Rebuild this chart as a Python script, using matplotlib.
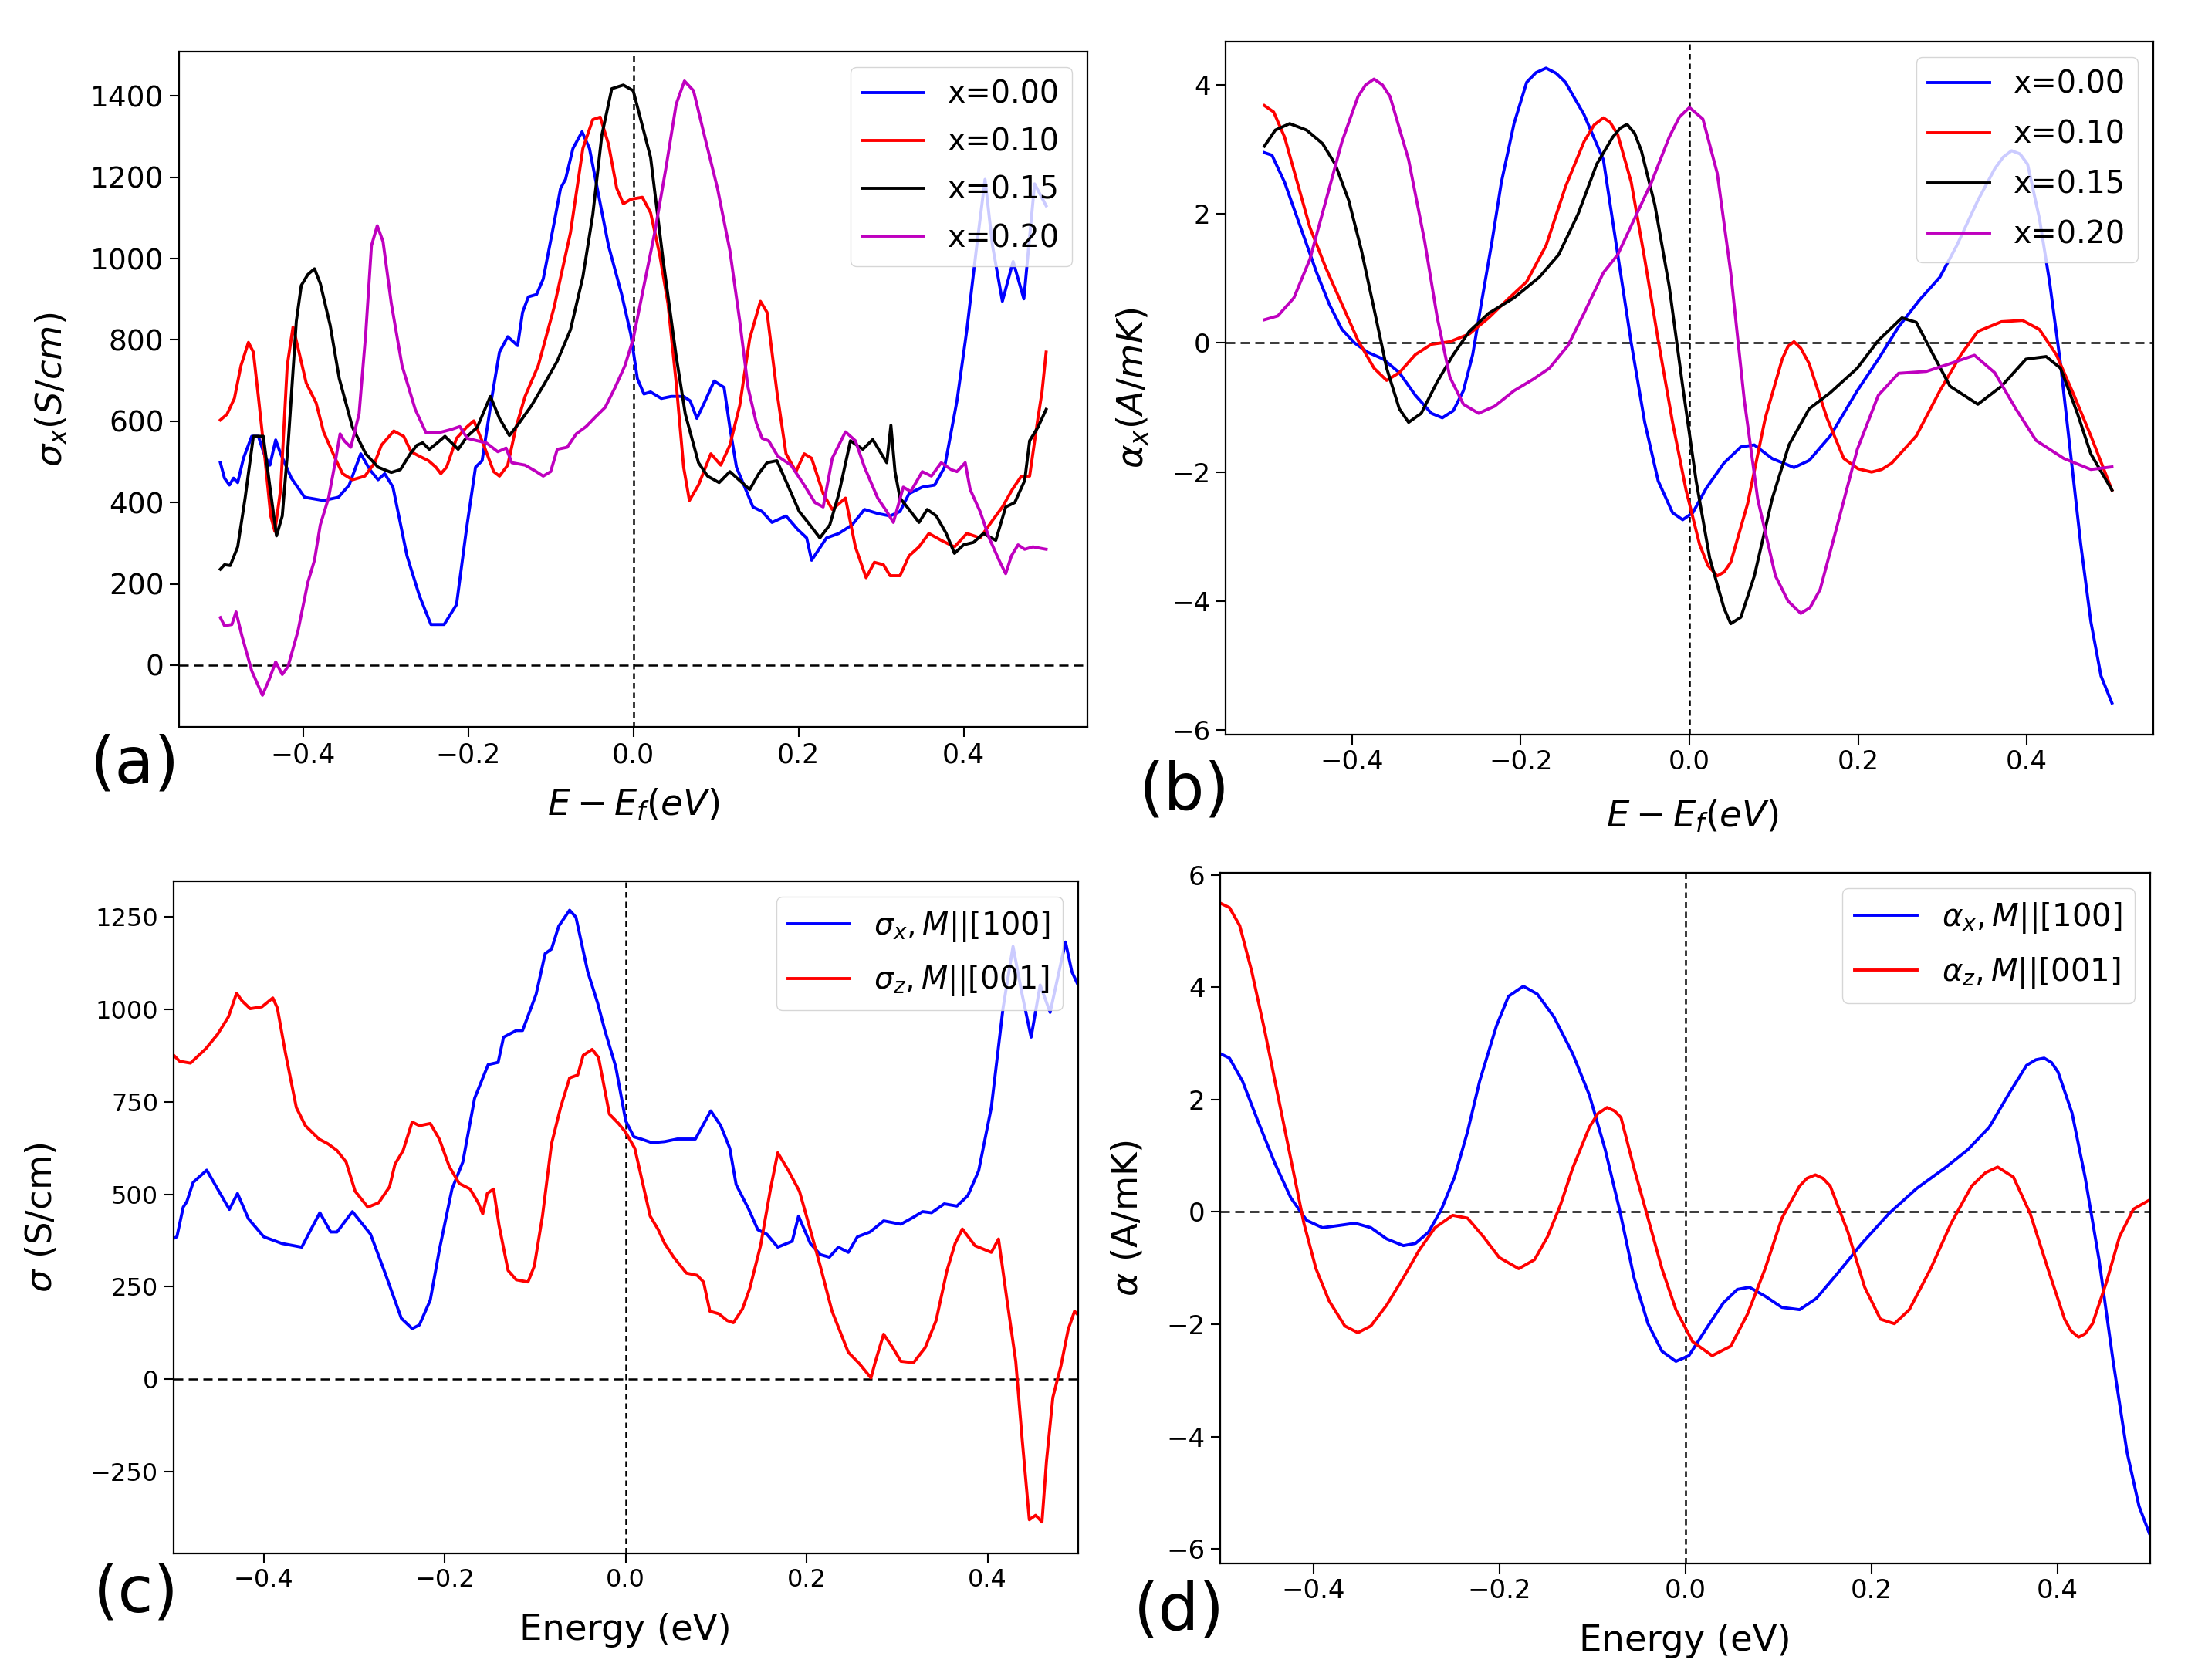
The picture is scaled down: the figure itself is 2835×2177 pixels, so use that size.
import matplotlib
matplotlib.use('Agg')
import matplotlib.pyplot as plt

# ---------------------------------------------------------------
# data
# ---------------------------------------------------------------

labels_x = ['x=0.00', 'x=0.10', 'x=0.15', 'x=0.20']
colors_x = ['b', 'r', 'k', 'm']

# (a) sigma_x for several x
a_e0 = [-0.500, -0.495, -0.489, -0.484, -0.479, -0.472, -0.462, -0.454, -0.446, -0.440, -0.433, -0.427, -0.414,
        -0.398, -0.375, -0.357, -0.344, -0.330, -0.319, -0.309, -0.301, -0.291, -0.274, -0.259, -0.245, -0.229,
        -0.214, -0.202, -0.191, -0.183, -0.171, -0.162, -0.152, -0.140, -0.134, -0.127, -0.117, -0.109, -0.096,
        -0.088, -0.082, -0.073, -0.062, -0.053, -0.030, -0.014, -0.003, 0.005, 0.013, 0.021, 0.034, 0.046, 0.061,
        0.069, 0.077, 0.086, 0.098, 0.110, 0.117, 0.125, 0.145, 0.156, 0.168, 0.185, 0.199, 0.210, 0.216, 0.234,
        0.249, 0.265, 0.280, 0.296, 0.311, 0.323, 0.334, 0.350, 0.365, 0.377, 0.385, 0.392, 0.404, 0.416, 0.426,
        0.435, 0.447, 0.460, 0.473, 0.486, 0.500]
a_s0 = [498, 460, 443, 460, 449, 509, 563, 563, 514, 492, 554, 520, 460, 413, 405, 413, 443, 520, 481, 456, 471,
        438, 269, 171, 100, 100, 149, 334, 487, 503, 661, 770, 808, 786, 868, 906, 912, 950, 1086, 1173, 1195, 1271,
        1312, 1271, 1032, 912, 814, 705, 667, 672, 656, 661, 661, 650, 607, 645, 699, 683, 585, 487, 389, 378, 351,
        367, 334, 313, 258, 313, 324, 345, 383, 373, 367, 378, 422, 438, 443, 487, 574, 650, 825, 1032, 1195, 1032,
        895, 993, 901, 1184, 1130]

a_e1 = [-0.500, -0.492, -0.483, -0.475, -0.466, -0.460, -0.454, -0.446, -0.439, -0.434, -0.427, -0.419, -0.412,
        -0.406, -0.396, -0.384, -0.375, -0.361, -0.352, -0.340, -0.325, -0.313, -0.305, -0.290, -0.278, -0.269,
        -0.259, -0.248, -0.239, -0.233, -0.226, -0.214, -0.202, -0.193, -0.181, -0.169, -0.162, -0.152, -0.142,
        -0.131, -0.115, -0.096, -0.076, -0.061, -0.049, -0.040, -0.030, -0.020, -0.012, -0.003, 0.011, 0.021, 0.032,
        0.042, 0.052, 0.061, 0.068, 0.079, 0.094, 0.106, 0.117, 0.129, 0.141, 0.154, 0.162, 0.174, 0.185, 0.197,
        0.207, 0.216, 0.230, 0.241, 0.257, 0.269, 0.282, 0.292, 0.303, 0.311, 0.323, 0.334, 0.346, 0.358, 0.373,
        0.389, 0.404, 0.420, 0.435, 0.447, 0.459, 0.470, 0.480, 0.490, 0.495, 0.500]
a_s1 = [603, 617, 656, 737, 794, 770, 661, 509, 367, 329, 432, 737, 832, 781, 694, 645, 574, 509, 471, 456, 465,
        498, 541, 576, 563, 525, 514, 503, 487, 471, 487, 558, 585, 601, 541, 476, 465, 492, 585, 661, 737, 879,
        1064, 1271, 1342, 1348, 1282, 1173, 1135, 1146, 1151, 1113, 1010, 890, 694, 487, 405, 443, 520, 492, 541,
        639, 803, 895, 868, 672, 520, 476, 520, 509, 422, 383, 411, 291, 215, 253, 247, 220, 220, 269, 291, 324,
        307, 291, 324, 313, 356, 389, 432, 465, 465, 607, 672, 770]

a_e2 = [-0.500, -0.495, -0.488, -0.479, -0.470, -0.460, -0.448, -0.441, -0.432, -0.425, -0.418, -0.408, -0.402,
        -0.394, -0.386, -0.379, -0.367, -0.356, -0.340, -0.324, -0.309, -0.293, -0.282, -0.270, -0.262, -0.255,
        -0.247, -0.239, -0.228, -0.212, -0.201, -0.189, -0.173, -0.162, -0.150, -0.138, -0.123, -0.107, -0.092,
        -0.076, -0.061, -0.049, -0.038, -0.026, -0.012, 0.000, 0.021, 0.036, 0.052, 0.063, 0.079, 0.090, 0.104,
        0.117, 0.129, 0.141, 0.152, 0.162, 0.174, 0.187, 0.201, 0.214, 0.226, 0.238, 0.249, 0.263, 0.278, 0.290,
        0.307, 0.312, 0.317, 0.323, 0.334, 0.346, 0.356, 0.367, 0.379, 0.389, 0.400, 0.412, 0.424, 0.439, 0.451,
        0.462, 0.474, 0.480, 0.490, 0.500]
a_s2 = [236, 247, 245, 291, 411, 563, 563, 454, 318, 367, 541, 846, 934, 961, 975, 939, 836, 705, 585, 520, 487,
        474, 481, 520, 541, 547, 531, 544, 563, 531, 563, 585, 661, 607, 565, 596, 639, 694, 748, 825, 955, 1108,
        1304, 1418, 1427, 1413, 1249, 999, 760, 618, 498, 465, 449, 476, 454, 432, 471, 498, 503, 443, 378, 345,
        313, 345, 422, 552, 531, 555, 498, 590, 476, 411, 383, 351, 383, 367, 324, 275, 296, 302, 324, 307, 389,
        400, 454, 552, 585, 629]

a_e3 = [-0.500, -0.495, -0.486, -0.481, -0.474, -0.462, -0.449, -0.441, -0.433, -0.425, -0.418, -0.406, -0.394,
        -0.386, -0.379, -0.369, -0.361, -0.355, -0.350, -0.342, -0.332, -0.324, -0.317, -0.310, -0.303, -0.293,
        -0.280, -0.264, -0.251, -0.235, -0.220, -0.210, -0.201, -0.189, -0.178, -0.164, -0.154, -0.147, -0.131,
        -0.119, -0.109, -0.100, -0.092, -0.080, -0.069, -0.057, -0.045, -0.034, -0.022, -0.010, 0.000, 0.013, 0.026,
        0.040, 0.052, 0.062, 0.073, 0.086, 0.102, 0.117, 0.129, 0.139, 0.149, 0.156, 0.164, 0.175, 0.191, 0.207,
        0.220, 0.230, 0.241, 0.257, 0.269, 0.280, 0.296, 0.307, 0.315, 0.327, 0.336, 0.350, 0.361, 0.373, 0.385,
        0.392, 0.402, 0.408, 0.420, 0.431, 0.443, 0.451, 0.458, 0.466, 0.474, 0.484, 0.500]
a_s3 = [117, 97, 100, 131, 73, -14, -74, -36, 8, -23, -3, 84, 204, 258, 345, 411, 498, 569, 552, 536, 618, 814,
        1032, 1081, 1042, 890, 737, 629, 572, 572, 580, 587, 558, 552, 547, 525, 534, 498, 492, 478, 465, 476, 531,
        536, 569, 587, 612, 634, 683, 737, 803, 934, 1064, 1228, 1380, 1437, 1413, 1304, 1173, 1020, 846, 683, 596,
        558, 552, 514, 492, 443, 400, 389, 509, 574, 552, 487, 411, 378, 351, 438, 427, 476, 465, 498, 481, 476,
        498, 432, 378, 313, 258, 225, 269, 296, 285, 291, 285]

# (b) alpha_x for several x
b_e0 = [-0.504, -0.495, -0.480, -0.461, -0.442, -0.427, -0.412, -0.397, -0.382, -0.363, -0.344, -0.325, -0.306,
        -0.293, -0.280, -0.268, -0.257, -0.246, -0.234, -0.223, -0.208, -0.193, -0.182, -0.170, -0.158, -0.147,
        -0.125, -0.102, -0.085, -0.069, -0.053, -0.037, -0.020, -0.008, 0.004, 0.020, 0.041, 0.061, 0.077, 0.098,
        0.124, 0.142, 0.167, 0.199, 0.224, 0.248, 0.273, 0.297, 0.317, 0.342, 0.362, 0.372, 0.382, 0.392, 0.401,
        0.415, 0.427, 0.440, 0.452, 0.464, 0.476, 0.488, 0.501]
b_a0 = [2.95, 2.91, 2.49, 1.79, 1.09, 0.60, 0.21, 0.00, -0.14, -0.25, -0.46, -0.81, -1.09, -1.16, -1.05, -0.74,
        -0.18, 0.67, 1.58, 2.49, 3.40, 4.04, 4.19, 4.26, 4.18, 4.04, 3.54, 2.84, 1.37, 0.00, -1.23, -2.14, -2.63,
        -2.74, -2.63, -2.25, -1.86, -1.61, -1.58, -1.79, -1.93, -1.82, -1.44, -0.74, -0.25, 0.25, 0.67, 1.02, 1.51,
        2.21, 2.70, 2.88, 2.98, 2.93, 2.77, 1.93, 0.95, -0.32, -1.72, -3.12, -4.32, -5.16, -5.58]

b_e1 = [-0.504, -0.493, -0.480, -0.465, -0.450, -0.431, -0.412, -0.393, -0.374, -0.359, -0.344, -0.325, -0.306,
        -0.284, -0.261, -0.238, -0.216, -0.193, -0.170, -0.147, -0.125, -0.113, -0.102, -0.094, -0.085, -0.069,
        -0.053, -0.037, -0.020, -0.004, 0.012, 0.022, 0.033, 0.041, 0.049, 0.069, 0.090, 0.110, 0.117, 0.124, 0.132,
        0.142, 0.163, 0.183, 0.200, 0.216, 0.228, 0.240, 0.269, 0.297, 0.322, 0.342, 0.370, 0.395, 0.415, 0.435,
        0.456, 0.476, 0.501]
b_a1 = [3.68, 3.58, 3.19, 2.49, 1.79, 1.16, 0.60, 0.04, -0.39, -0.58, -0.46, -0.18, -0.02, 0.02, 0.14, 0.39, 0.67,
        0.95, 1.51, 2.42, 3.12, 3.38, 3.49, 3.42, 3.23, 2.49, 1.30, 0.04, -1.23, -2.28, -3.12, -3.45, -3.61, -3.55,
        -3.40, -2.49, -1.16, -0.25, -0.05, 0.02, -0.08, -0.32, -1.16, -1.79, -1.95, -2.00, -1.96, -1.86, -1.44,
        -0.74, -0.18, 0.18, 0.33, 0.35, 0.21, -0.18, -0.81, -1.44, -2.28]

b_e2 = [-0.504, -0.491, -0.474, -0.454, -0.435, -0.420, -0.404, -0.389, -0.374, -0.359, -0.344, -0.333, -0.318,
        -0.299, -0.280, -0.261, -0.238, -0.208, -0.178, -0.155, -0.132, -0.110, -0.091, -0.082, -0.074, -0.065,
        -0.057, -0.041, -0.024, -0.008, 0.008, 0.024, 0.041, 0.049, 0.061, 0.077, 0.098, 0.118, 0.142, 0.167, 0.199,
        0.224, 0.252, 0.269, 0.289, 0.309, 0.342, 0.370, 0.399, 0.423, 0.440, 0.460, 0.476, 0.501]
b_a2 = [3.05, 3.30, 3.40, 3.30, 3.09, 2.77, 2.21, 1.44, 0.53, -0.39, -1.02, -1.23, -1.09, -0.60, -0.18, 0.18,
        0.46, 0.70, 1.02, 1.37, 2.00, 2.77, 3.19, 3.33, 3.39, 3.25, 2.98, 2.14, 0.88, -0.67, -2.14, -3.33, -4.11,
        -4.35, -4.25, -3.61, -2.42, -1.58, -1.02, -0.77, -0.39, 0.04, 0.39, 0.32, -0.18, -0.67, -0.95, -0.67, -0.25,
        -0.21, -0.39, -1.09, -1.72, -2.28]

b_e3 = [-0.504, -0.488, -0.469, -0.450, -0.431, -0.412, -0.393, -0.384, -0.374, -0.364, -0.355, -0.333, -0.314,
        -0.299, -0.284, -0.268, -0.250, -0.231, -0.208, -0.185, -0.166, -0.144, -0.125, -0.102, -0.085, -0.065,
        -0.045, -0.024, -0.012, 0.000, 0.016, 0.033, 0.049, 0.065, 0.081, 0.102, 0.117, 0.132, 0.143, 0.155, 0.175,
        0.199, 0.224, 0.248, 0.281, 0.309, 0.338, 0.362, 0.387, 0.411, 0.444, 0.476, 0.501]
b_a3 = [0.36, 0.42, 0.70, 1.30, 2.21, 3.12, 3.82, 4.00, 4.09, 4.00, 3.82, 2.84, 1.58, 0.39, -0.53, -0.95, -1.09,
        -0.98, -0.74, -0.56, -0.39, -0.04, 0.46, 1.09, 1.37, 1.93, 2.49, 3.19, 3.50, 3.65, 3.47, 2.63, 1.09, -0.88,
        -2.42, -3.61, -4.00, -4.19, -4.10, -3.82, -2.84, -1.65, -0.81, -0.47, -0.44, -0.32, -0.19, -0.46, -1.02,
        -1.51, -1.79, -1.96, -1.92]

# (c) sigma for two magnetisation directions
c_ex = [-0.501, -0.496, -0.489, -0.485, -0.478, -0.463, -0.451, -0.438, -0.429, -0.417, -0.400, -0.380, -0.358,
        -0.348, -0.338, -0.326, -0.319, -0.302, -0.282, -0.265, -0.248, -0.236, -0.228, -0.216, -0.206, -0.192,
        -0.180, -0.167, -0.152, -0.141, -0.135, -0.121, -0.114, -0.099, -0.089, -0.082, -0.074, -0.062, -0.055,
        -0.042, -0.031, -0.023, -0.011, 0.000, 0.009, 0.017, 0.029, 0.043, 0.057, 0.077, 0.094, 0.105, 0.115, 0.122,
        0.136, 0.146, 0.156, 0.168, 0.184, 0.191, 0.204, 0.215, 0.225, 0.235, 0.246, 0.256, 0.270, 0.285, 0.304,
        0.318, 0.328, 0.338, 0.352, 0.366, 0.378, 0.390, 0.404, 0.417, 0.428, 0.438, 0.448, 0.458, 0.469, 0.486,
        0.493, 0.501]
c_sx = [379, 385, 465, 480, 532, 565, 514, 459, 502, 434, 385, 367, 357, 404, 450, 398, 398, 453, 392, 281, 165,
        137, 147, 214, 349, 514, 587, 759, 850, 856, 924, 942, 942, 1040, 1150, 1162, 1224, 1267, 1248, 1101, 1016,
        942, 844, 698, 655, 649, 639, 642, 649, 649, 725, 685, 624, 526, 459, 404, 392, 357, 373, 441, 367, 337, 330,
        357, 343, 385, 398, 428, 419, 438, 453, 450, 474, 468, 496, 563, 734, 1003, 1169, 1040, 924, 1065, 991, 1181,
        1101, 1059]

c_ez = [-0.501, -0.493, -0.481, -0.464, -0.451, -0.439, -0.430, -0.424, -0.415, -0.402, -0.390, -0.385, -0.376,
        -0.364, -0.354, -0.339, -0.329, -0.319, -0.309, -0.299, -0.285, -0.273, -0.261, -0.255, -0.246, -0.236,
        -0.228, -0.216, -0.206, -0.195, -0.184, -0.172, -0.163, -0.158, -0.153, -0.146, -0.140, -0.130, -0.121,
        -0.108, -0.101, -0.092, -0.082, -0.072, -0.062, -0.053, -0.047, -0.037, -0.030, -0.018, -0.008, 0.000,
        0.010, 0.018, 0.027, 0.036, 0.043, 0.053, 0.067, 0.079, 0.086, 0.093, 0.103, 0.112, 0.119, 0.129, 0.137,
        0.149, 0.160, 0.168, 0.180, 0.192, 0.204, 0.215, 0.228, 0.246, 0.258, 0.271, 0.276, 0.285, 0.295, 0.304,
        0.318, 0.331, 0.343, 0.355, 0.364, 0.372, 0.386, 0.404, 0.412, 0.421, 0.431, 0.438, 0.446, 0.453, 0.460,
        0.465, 0.472, 0.481, 0.489, 0.496, 0.501]
c_sz = [879, 859, 854, 893, 932, 979, 1043, 1022, 1001, 1006, 1030, 1003, 881, 734, 685, 649, 636, 618, 587, 508,
        465, 477, 520, 581, 618, 695, 685, 691, 649, 575, 529, 514, 477, 447, 502, 514, 416, 294, 269, 263, 306, 441,
        636, 734, 814, 822, 875, 891, 869, 716, 691, 667, 624, 538, 441, 404, 367, 330, 287, 281, 263, 184, 177, 159,
        153, 190, 245, 361, 514, 612, 563, 508, 404, 306, 184, 73, 43, 4, 49, 122, 86, 49, 45, 86, 159, 294, 367,
        406, 361, 343, 379, 220, 49, -159, -379, -367, -385, -220, -49, 37, 135, 184, 171]

# (d) alpha for two magnetisation directions
d_ex = [-0.500, -0.490, -0.476, -0.459, -0.441, -0.424, -0.407, -0.390, -0.372, -0.355, -0.338, -0.321, -0.303,
        -0.290, -0.276, -0.262, -0.248, -0.234, -0.221, -0.203, -0.190, -0.174, -0.159, -0.141, -0.121, -0.103,
        -0.086, -0.070, -0.055, -0.040, -0.025, -0.010, 0.004, 0.023, 0.041, 0.056, 0.069, 0.086, 0.104, 0.123,
        0.141, 0.164, 0.190, 0.219, 0.249, 0.279, 0.304, 0.327, 0.349, 0.367, 0.377, 0.386, 0.394, 0.401, 0.416,
        0.430, 0.445, 0.460, 0.475, 0.488, 0.499]
d_ax = [2.82, 2.74, 2.33, 1.60, 0.86, 0.25, -0.15, -0.28, -0.24, -0.20, -0.28, -0.48, -0.60, -0.56, -0.36, 0.05,
        0.62, 1.43, 2.33, 3.31, 3.84, 4.02, 3.88, 3.47, 2.82, 2.08, 1.11, 0.00, -1.17, -1.99, -2.48, -2.66, -2.56,
        -2.07, -1.62, -1.38, -1.34, -1.50, -1.70, -1.74, -1.54, -1.09, -0.56, -0.03, 0.42, 0.78, 1.11, 1.51, 2.13,
        2.61, 2.71, 2.74, 2.66, 2.49, 1.76, 0.62, -0.85, -2.64, -4.27, -5.24, -5.72]

d_ez = [-0.500, -0.490, -0.479, -0.466, -0.452, -0.438, -0.424, -0.410, -0.397, -0.383, -0.366, -0.352, -0.338,
        -0.321, -0.303, -0.286, -0.269, -0.250, -0.234, -0.217, -0.200, -0.179, -0.162, -0.148, -0.134, -0.121,
        -0.103, -0.094, -0.084, -0.076, -0.069, -0.055, -0.040, -0.025, -0.010, 0.008, 0.029, 0.049, 0.067, 0.086,
        0.104, 0.123, 0.131, 0.140, 0.148, 0.156, 0.175, 0.193, 0.210, 0.225, 0.241, 0.264, 0.286, 0.308, 0.323,
        0.336, 0.353, 0.371, 0.390, 0.408, 0.415, 0.423, 0.430, 0.438, 0.453, 0.467, 0.482, 0.499]
d_az = [5.50, 5.42, 5.10, 4.28, 3.22, 2.08, 0.94, -0.20, -1.01, -1.58, -2.03, -2.15, -2.03, -1.66, -1.17, -0.68,
        -0.28, -0.06, -0.11, -0.44, -0.81, -1.01, -0.85, -0.44, 0.13, 0.78, 1.51, 1.75, 1.86, 1.80, 1.68, 0.78,
        -0.11, -1.01, -1.74, -2.31, -2.56, -2.39, -1.82, -1.01, -0.11, 0.46, 0.60, 0.66, 0.60, 0.46, -0.36, -1.34,
        -1.91, -1.99, -1.74, -1.01, -0.20, 0.46, 0.70, 0.80, 0.62, -0.03, -1.01, -1.91, -2.12, -2.23, -2.17, -1.99,
        -1.25, -0.44, 0.05, 0.21]

xticks = [-0.4, -0.2, 0.0, 0.2, 0.4]

# ---------------------------------------------------------------
# figure
# ---------------------------------------------------------------

W, H = 2835, 2177
fig = plt.figure(figsize=(W / 100, H / 100), dpi=100)


def box(x0, x1, y0, y1):
    # pixel box (left, right, top, bottom) -> figure fraction rect
    return [x0 / W, 1 - y1 / H, (x1 - x0) / W, (y1 - y0) / H]


def style(ax, xsize, ysize):
    ax.axhline(0, color='k', lw=1.8, ls=(0, (4.8, 2.8)), zorder=1)
    ax.axvline(0, color='k', lw=1.8, ls=(0, (3.0, 2.0)), zorder=1)
    ax.set_xticks(xticks)
    for s in ax.spines.values():
        s.set_linewidth(1.6)
    ax.tick_params(axis='both', which='major', length=9, width=1.5, pad=5)
    ax.tick_params(axis='x', labelsize=xsize)
    ax.tick_params(axis='y', labelsize=ysize)


lw = 2.8
lab_size = 33.5

ax_a = fig.add_axes(box(232, 1409, 67, 942))
for e, s, c, lab in zip([a_e0, a_e1, a_e2, a_e3], [a_s0, a_s1, a_s2, a_s3], colors_x, labels_x):
    ax_a.plot(e, s, color=c, lw=lw, label=lab)
style(ax_a, 25, 27)
ax_a.set_xlim(-0.55, 0.55)
ax_a.set_ylim(-152, 1509)
ax_a.legend(loc='upper right', fontsize=28.5, labelspacing=0.56)
ax_a.set_xlabel(r'$E-E_f(eV)$', fontsize=lab_size)
ax_a.set_ylabel(r'$\sigma_x(S/cm)$', fontsize=lab_size)
ax_a.xaxis.set_label_coords(0.500, -0.1154)
ax_a.yaxis.set_label_coords(-0.140, 0.5)

ax_b = fig.add_axes(box(1588, 2790, 54, 952))
for e, a, c, lab in zip([b_e0, b_e1, b_e2, b_e3], [b_a0, b_a1, b_a2, b_a3], colors_x, labels_x):
    ax_b.plot(e, a, color=c, lw=lw, label=lab)
style(ax_b, 24.5, 24.5)
ax_b.set_xlim(-0.55, 0.55)
ax_b.set_ylim(-6.07, 4.67)
ax_b.legend(loc='upper right', fontsize=28.5, labelspacing=0.63)
ax_b.set_xlabel(r'$E-E_f(eV)$', fontsize=lab_size)
ax_b.set_ylabel(r'$\alpha_x(A/mK)$', fontsize=lab_size)
ax_b.xaxis.set_label_coords(0.503, -0.118)
ax_b.yaxis.set_label_coords(-0.100, 0.5)

ax_c = fig.add_axes(box(224.5, 1397, 1142, 2013))
ax_c.plot(c_ex, c_sx, color='b', lw=lw, label=r'$\sigma_x, M||[100]$')
ax_c.plot(c_ez, c_sz, color='r', lw=lw, label=r'$\sigma_z, M||[001]$')
style(ax_c, 23, 23)
ax_c.set_xlim(-0.5, 0.5)
ax_c.set_ylim(-470, 1345)
ax_c.legend(loc='upper right', fontsize=28.5, labelspacing=0.65)
ax_c.set_xlabel('Energy (eV)', fontsize=lab_size)
ax_c.set_ylabel(r'$\sigma$ (S/cm)', fontsize=lab_size)
ax_c.xaxis.set_label_coords(0.500, -0.114)
ax_c.yaxis.set_label_coords(-0.145, 0.5)

ax_d = fig.add_axes(box(1581, 2786, 1131, 2026))
ax_d.plot(d_ex, d_ax, color='b', lw=lw, label=r'$\alpha_x, M||[100]$')
ax_d.plot(d_ez, d_az, color='r', lw=lw, label=r'$\alpha_z, M||[001]$')
style(ax_d, 24.5, 24.5)
ax_d.set_xlim(-0.5, 0.5)
ax_d.set_ylim(-6.26, 6.04)
ax_d.legend(loc='upper right', fontsize=29, labelspacing=0.65)
ax_d.set_xlabel('Energy (eV)', fontsize=lab_size)
ax_d.set_ylabel(r'$\alpha$ (A/mK)', fontsize=lab_size)
ax_d.xaxis.set_label_coords(0.500, -0.112)
ax_d.yaxis.set_label_coords(-0.0996, 0.5)

for ax in (ax_a, ax_b, ax_c, ax_d):
    ax.xaxis.label.set_va('center')
    ax.yaxis.label.set_va('center')

# panel tags
for tag, px, py in [('(a)', 175, 991), ('(b)', 1535, 1025), ('(c)', 176, 2065), ('(d)', 1528, 2088)]:
    fig.text(px / W, 1 - py / H, tag, fontsize=60, ha='center', va='center')

fig.savefig('out.png', dpi=100)
